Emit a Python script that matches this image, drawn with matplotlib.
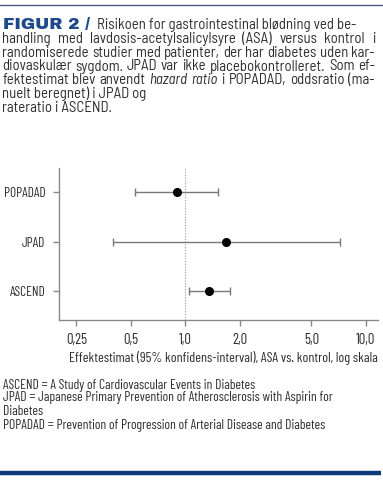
import matplotlib
matplotlib.use("Agg")
import matplotlib.pyplot as plt
from matplotlib.ticker import FixedLocator, NullLocator

TITLE_FONT = ['Barlow Semi Condensed', 'DejaVu Sans']
BODY_FONT = ['Barlow Condensed', 'DejaVu Sans']
plt.rcParams['font.family'] = BODY_FONT

# data
studies = ['POPADAD', 'JPAD', 'ASCEND']
estimate = [0.90, 1.69, 1.36]
ci_low = [0.53, 0.40, 1.05]
ci_high = [1.52, 7.20, 1.77]
tick_vals = [0.25, 0.5, 1.0, 2.0, 5.0, 10.0]
tick_labels = ['0,25', '0,5', '1,0', '2,0', '5,0', '10,0']

# title lines; words marked with * are italic
title_lines = [
    "Risikoen for gastrointestinal blødning ved be-",
    "handling med lavdosis-acetylsalicylsyre (ASA) versus kontrol i",
    "randomiserede studier med patienter, der har diabetes uden kar-",
    "diovaskulær sygdom. JPAD var ikke placebokontrolleret. Som ef-",
    "fektestimat blev anvendt *hazard *ratio i POPADAD, oddsratio (ma-",
    "nuelt beregnet) i JPAD og",
    "rateratio i ASCEND.",
]
notes = [
    "ASCEND = A Study of Cardiovascular Events in Diabetes",
    "JPAD = Japanese Primary Prevention of Atherosclerosis with Aspirin for",
    "Diabetes",
    "POPADAD = Prevention of Progression of Arterial Disease and Diabetes",
]
xlabel = "Effektestimat (95% konfidens-interval), ASA vs. kontrol, log skala"

W, H = 383, 480
fig = plt.figure(figsize=(W / 100, H / 100), dpi=100)
fig.patch.set_facecolor('white')
txt = '#2e2e2e'
blue = '#1d4a8c'
renderer = fig.canvas.get_renderer()

def fy(py):
    return 1 - py / H

def fx(px):
    return px / W

def width_of(s, family, size, style='normal'):
    t = fig.text(0, 0, s, fontsize=size, family=family, style=style)
    w = t.get_window_extent(renderer).width
    t.remove()
    return w

def fit_size(s, family, width_px):
    return 10 * width_px / width_of(s, family, 10)

def split_words(line):
    out = []
    for w in line.split(' '):
        if w.startswith('*'):
            out.append((w[1:], 'italic'))
        else:
            out.append((w, 'normal'))
    return out

def natural_width(line, size):
    words = split_words(line)
    sp = width_of('a a', TITLE_FONT, size) - width_of('aa', TITLE_FONT, size)
    return sum(width_of(w, TITLE_FONT, size, st) for w, st in words) + sp * (len(words) - 1)

def draw_line(line, x0, x1, y, size, justify):
    words = split_words(line)
    if not justify:
        # plain line: one text object, natural spacing
        if all(st == 'normal' for _, st in words):
            fig.text(fx(x0), fy(y), line, fontsize=size, family=TITLE_FONT,
                     color=txt, va='baseline', ha='left')
            return
    ws = [width_of(w, TITLE_FONT, size, st) for w, st in words]
    sp = width_of('a a', TITLE_FONT, size) - width_of('aa', TITLE_FONT, size)
    if justify and len(words) > 1:
        sp = (x1 - x0 - sum(ws)) / (len(words) - 1)
    x = x0
    for (w, st), wd in zip(words, ws):
        fig.text(fx(x), fy(y), w, fontsize=size, family=TITLE_FONT, style=st,
                 color=txt, va='baseline', ha='left')
        x += wd + sp

# top rule and bottom bar
fig.add_artist(plt.Line2D([0, 1], [fy(4.5), fy(4.5)], color='#4b5c7d', lw=1.0))
fig.add_artist(plt.Line2D([0, fx(381)], [fy(473), fy(473)], color='#0d3a7a', lw=3.2, solid_capstyle='butt'))

# title block
tsize = 10 * 373 / max(natural_width(l, 10) for l in title_lines[1:5])
line_y = [29, 43.3, 57, 70.5, 84.3, 98, 111.5]
fsize = fit_size("FIGUR 2 /", ['Archivo Black', 'DejaVu Sans'], 87)
fig.text(fx(3), fy(line_y[0] + 0.5), "FIGUR 2 /", fontsize=fsize, color=blue,
         family=['Archivo Black', 'DejaVu Sans'], va='baseline', ha='left')
draw_line(title_lines[0], 97, 360, line_y[0], tsize, False)
for i in range(1, 7):
    draw_line(title_lines[i], 2, 375, line_y[i], tsize, i <= 4)

# forest plot
ax = fig.add_axes([fx(59), fy(320), fx(378) - fx(59), fy(168) - fy(320)])
ypos = [3, 2, 1]
ax.set_xscale('log')
ax.set_xlim(0.2, 11.7)
ax.set_ylim(0.41, 3.49)
ax.axvline(1.0, color='#999999', lw=0.8, ls=(0, (1, 1.5)))
for y, e, lo, hi in zip(ypos, estimate, ci_low, ci_high):
    ax.errorbar([e], [y], xerr=[[e - lo], [hi - e]], fmt='o', color='black',
                ecolor='#777777', elinewidth=1.0, capsize=3.2, capthick=1.0,
                markersize=5.5, zorder=3)
ax.xaxis.set_major_locator(FixedLocator(tick_vals))
ax.xaxis.set_minor_locator(NullLocator())
ax.set_xticklabels(tick_labels)
ax.set_yticks(ypos)
ax.set_yticklabels(studies)
for s in ['top', 'right']:
    ax.spines[s].set_visible(False)
for s in ['left', 'bottom']:
    ax.spines[s].set_color('#888888')
    ax.spines[s].set_linewidth(1.0)
ysize = fit_size("POPADAD", BODY_FONT, 42)
xtsize = fit_size("0,25", BODY_FONT, 21)
ax.tick_params(axis='both', colors='#888888', labelcolor=txt, width=1.0)
ax.tick_params(axis='x', length=4.3, pad=5, labelsize=xtsize)
ax.tick_params(axis='y', length=4.3, pad=5.5, labelsize=ysize)
ax.set_facecolor('white')

xsize = fit_size(xlabel, BODY_FONT, 309)
fig.text(fx(69), fy(358), xlabel, fontsize=xsize, color=txt, ha='left', va='center')

nsize = fit_size(notes[1], BODY_FONT, 330)
for y, s in zip([385, 398, 411.7, 425], notes):
    fig.text(fx(3), fy(y), s, fontsize=nsize, color=txt, ha='left', va='center')

fig.savefig('out.png', dpi=100)
